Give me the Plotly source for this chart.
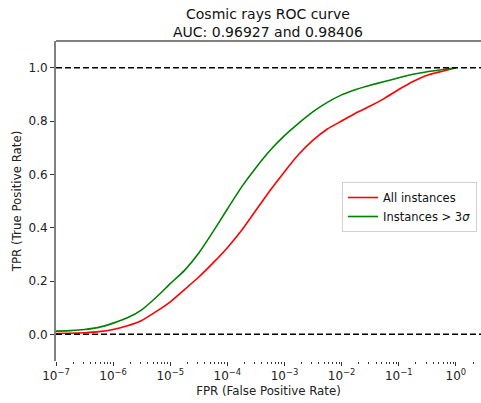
import numpy as np
import plotly.graph_objects as go

# Data (FPR on log scale, TPR)
log_fpr = [-7, -6.75, -6.5, -6.25, -6, -5.75, -5.5, -5.25, -5, -4.75, -4.5, -4.25, -4,
           -3.75, -3.5, -3.25, -3, -2.75, -2.5, -2.25, -2, -1.75, -1.5, -1.25, -1,
           -0.75, -0.5, -0.25, 0]
fpr = [10 ** v for v in log_fpr]
tpr_all = [0.003, 0.004, 0.006, 0.010, 0.018, 0.032, 0.052, 0.085, 0.122, 0.168, 0.215, 0.268, 0.325,
           0.39, 0.465, 0.54, 0.61, 0.675, 0.728, 0.77, 0.80, 0.83, 0.856, 0.885, 0.918,
           0.948, 0.972, 0.986, 1.0]
tpr_3sigma = [0.012, 0.014, 0.018, 0.026, 0.042, 0.062, 0.092, 0.138, 0.19, 0.24, 0.305, 0.385, 0.47,
              0.553, 0.625, 0.69, 0.745, 0.792, 0.835, 0.87, 0.898, 0.918, 0.934, 0.948, 0.962,
              0.975, 0.985, 0.992, 1.0]

series_names = ["All instances", "Instances > 3<i>σ</i>"]
title_lines = ["Cosmic rays ROC curve", "AUC: 0.96927 and 0.98406"]
x_tick_exps = [-7, -6, -5, -4, -3, -2, -1, 0]
y_ticks = [0.0, 0.2, 0.4, 0.6, 0.8, 1.0]

W, H = 481, 403
L, R, T, B = 56, 0, 41, 42
PH = H - T - B

fig = go.Figure()
fig.add_trace(go.Scatter(x=fpr, y=tpr_all, mode="lines", name=series_names[0],
                         line=dict(color="#ff0000", width=1.6, shape="spline", smoothing=0.4)))
fig.add_trace(go.Scatter(x=fpr, y=tpr_3sigma, mode="lines", name=series_names[1],
                         line=dict(color="#008000", width=1.6, shape="spline", smoothing=0.4)))

minor_vals = [m * 10 ** e for e in range(-7, 1) for m in range(2, 10)]

fig.update_layout(
    width=W, height=H,
    margin=dict(l=L, r=R, t=T, b=B),
    paper_bgcolor="white", plot_bgcolor="white",
    font=dict(family="DejaVu Sans", size=11, color="#222"),
    showlegend=True,
    hovermode=False,
    legend=dict(x=(477 - L) / (W - L - R), xanchor="right", y=(361 - 182) / PH, yanchor="top",
                bgcolor="white", bordercolor="#d0d0d0", borderwidth=1,
                font=dict(size=11.5, color="#111"), itemwidth=30,
                tracegroupgap=0),
    xaxis=dict(type="log", range=[-7, 0.44], showgrid=False, zeroline=False,
               showline=False, ticks="outside", ticklen=4, tickwidth=1, tickcolor="#333",
               tickvals=[10 ** e for e in x_tick_exps],
               ticktext=["10<sup>\u2212%d</sup>" % (-e) if e < 0 else "10<sup>0</sup>" for e in x_tick_exps],
               tickfont=dict(size=12),
               minor=dict(tickvals=minor_vals, ticks="outside", ticklen=2, tickwidth=0.8, tickcolor="#333"),
               title=dict(text="FPR (False Positive Rate)", font=dict(size=11.8), standoff=4)),
    yaxis=dict(range=[-0.1, 1.1], showgrid=False, zeroline=False,
               showline=True, linecolor="#808080", linewidth=2,
               ticks="outside", ticklen=4, tickwidth=1, tickcolor="#333",
               tickvals=y_ticks, ticktext=["%.1f" % v for v in y_ticks],
               tickfont=dict(size=12),
               title=dict(text="TPR (True Positive Rate)", font=dict(size=11.8), standoff=4)),
)

# two-line title as annotations; first sits above, second below a shared edge
edge_y = 22.8
edge_paper = 1 + (T - edge_y) / PH
for txt, anchor in zip(title_lines, ["bottom", "top"]):
    fig.add_annotation(text=txt, xref="paper", yref="paper", x=(268 - L) / (W - L - R),
                       y=edge_paper, xanchor="center", yanchor=anchor, borderpad=0,
                       showarrow=False, font=dict(size=14, color="#111"))

# top spine
fig.add_shape(type="line", xref="paper", yref="paper", x0=0, x1=1, y0=1, y1=1,
              line=dict(color="#808080", width=2))
# dashed reference lines at TPR 0 and 1
for yv in [0.0, 1.0]:
    fig.add_shape(type="line", xref="paper", yref="y", x0=0, x1=1, y0=yv, y1=yv,
                  line=dict(color="black", width=1.5, dash="6px,3px"))

fig.write_html("out.html",
               config={"displayModeBar": False},
               post_script="document.body.style.margin='0';document.body.style.overflow='hidden';")
